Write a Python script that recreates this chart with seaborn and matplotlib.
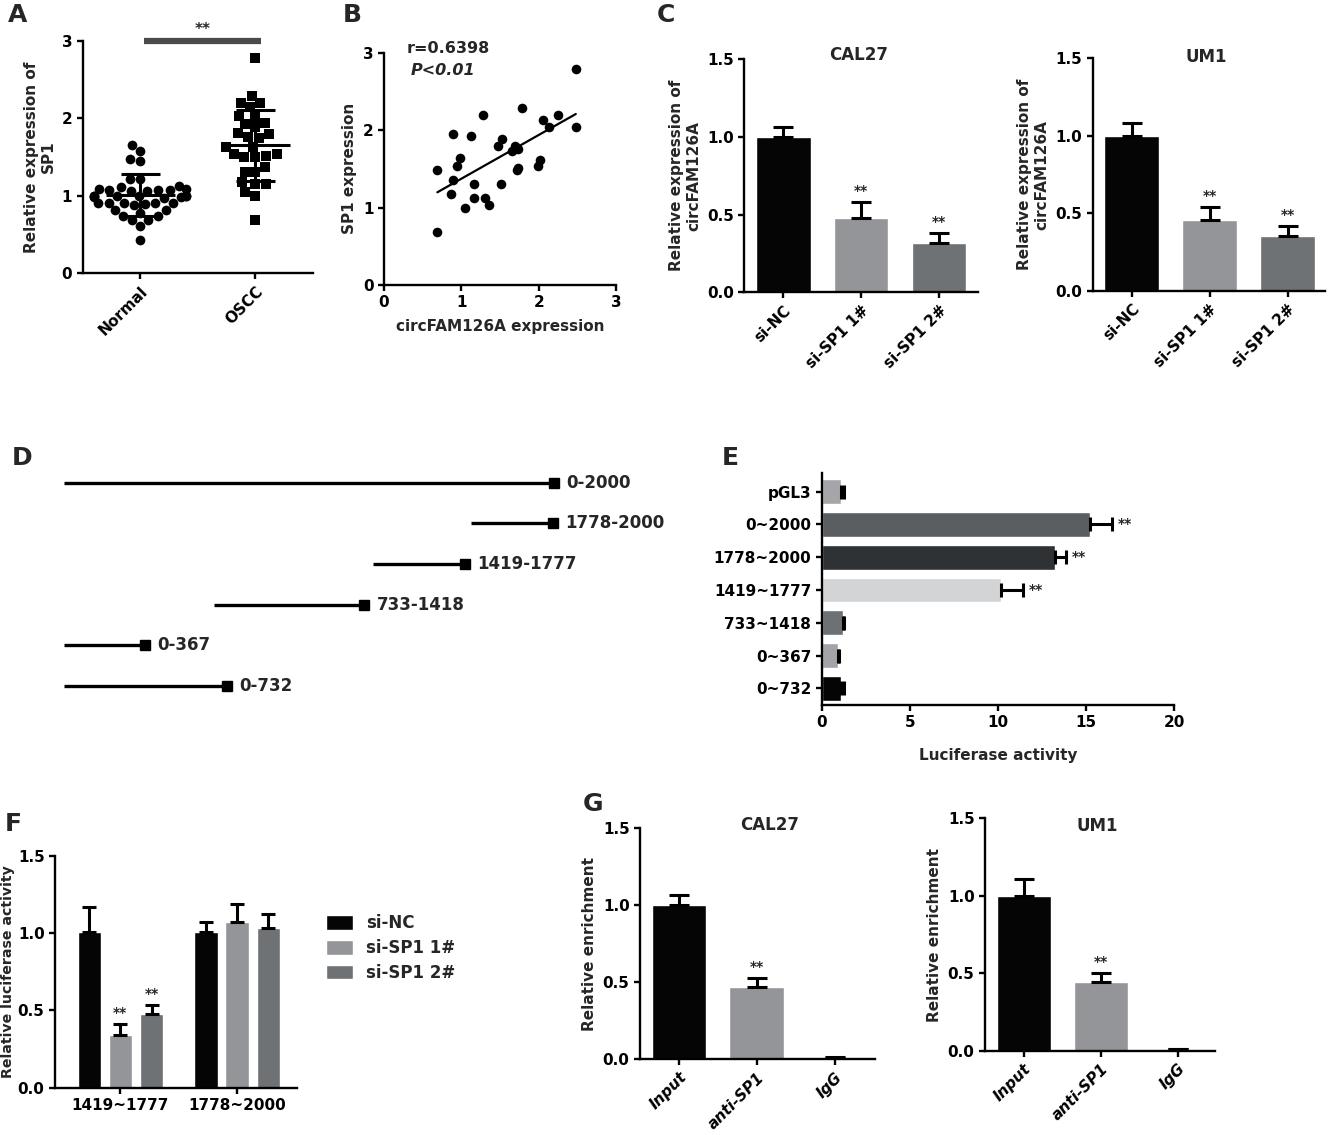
import matplotlib
matplotlib.use('Agg')
import matplotlib.pyplot as plt
import seaborn as sns
import pandas as pd

# ---- data ----
# A
normal_expr = [1.65, 1.58, 1.47, 1.45, 1.22, 1.22, 1.11, 1.08, 1.07, 1.06, 1.07, 1.06, 1.07, 1.08,
               1.12, 1.00, 0.99, 0.98, 0.99, 1.00, 0.99, 0.98, 1.00, 0.97, 0.90, 0.91, 0.90, 0.88,
               0.90, 0.91, 0.89, 0.81, 0.81, 0.78, 0.73, 0.73, 0.69, 0.69, 0.61, 0.42]
oscc_expr = [2.78, 2.29, 2.20, 2.20, 2.14, 2.03, 2.02, 1.88, 1.94, 1.92, 1.80, 1.76, 1.81, 1.74,
             1.63, 1.63, 1.54, 1.50, 1.50, 1.51, 1.54, 1.37, 1.30, 1.31, 1.15, 1.15, 1.17, 1.04,
             1.00, 0.68]
a_groups = ['Normal', 'OSCC']
a_mean = [1.01, 1.65]
a_sd = [0.27, 0.46]

# B
circ_expr = [2.48, 2.48, 2.25, 2.14, 2.06, 1.79, 1.28, 0.89, 1.13, 1.53, 1.48, 1.70, 1.65, 1.73, 0.98,
             0.95, 0.69, 0.89, 1.16, 1.51, 1.73, 1.72, 2.02, 1.99, 0.86, 1.16, 1.31, 1.36, 1.05, 0.69]
sp1_expr = [2.79, 2.04, 2.20, 2.04, 2.13, 2.29, 2.20, 1.95, 1.92, 1.88, 1.79, 1.80, 1.73, 1.75, 1.64,
            1.54, 1.49, 1.36, 1.31, 1.30, 1.51, 1.49, 1.61, 1.54, 1.18, 1.13, 1.13, 1.03, 1.00, 0.68]

# C
si_groups = ['si-NC', 'si-SP1 1#', 'si-SP1 2#']
c_cal27 = [1.00, 0.476, 0.315]
c_cal27_sd = [0.067, 0.108, 0.069]
c_um1 = [1.00, 0.458, 0.354]
c_um1_sd = [0.085, 0.086, 0.064]
si_colors = ['#050505', '#939598', '#6e7274']

# D
frag_labels = ['0-2000', '1778-2000', '1419-1777', '733-1418', '0-367', '0-732']
frag_start = [0, 1661, 1261, 612, 0, 0]
frag_end = [2000, 1996, 1637, 1224, 331, 665]

# E
e_constructs = ['pGL3', '0~2000', '1778~2000', '1419~1777', '733~1418', '0~367', '0~732']
e_luc = [1.09, 15.25, 13.26, 10.20, 1.19, 0.90, 1.09]
e_luc_sd = [0.16, 1.22, 0.61, 1.22, 0.09, 0.10, 0.16]
e_sig = ['', '**', '**', '**', '', '', '']
e_colors = ['#a4a6a9', '#5b5e61', '#2e3235', '#d3d4d5', '#6e7174', '#a2a4a7', '#050505']

# F
f_regions = ['1419~1777', '1778~2000']
f_nc = [1.01, 1.006]
f_sp1_1 = [0.341, 1.075]
f_sp1_2 = [0.477, 1.032]
f_nc_sd = [0.158, 0.064]
f_sp1_1_sd = [0.071, 0.112]
f_sp1_2_sd = [0.058, 0.090]
f_sig = {'si-SP1 1#': ['**', ''], 'si-SP1 2#': ['**', '']}

# G
g_groups = ['Input', 'anti-SP1', 'IgG']
g_cal27 = [1.00, 0.468, 0.010]
g_cal27_sd = [0.067, 0.058, 0.005]
g_um1 = [1.00, 0.441, 0.010]
g_um1_sd = [0.106, 0.063, 0.004]
g_colors = ['#050505', '#939598', '#505254']

# ---- style ----
sns.set_style('ticks')
plt.rcParams['font.family'] = ['DejaVu Sans']
plt.rcParams['font.weight'] = 'bold'
plt.rcParams['axes.labelweight'] = 'bold'
plt.rcParams['axes.linewidth'] = 1.7
plt.rcParams['xtick.major.width'] = 1.7
plt.rcParams['ytick.major.width'] = 1.7
plt.rcParams['xtick.major.size'] = 4
plt.rcParams['ytick.major.size'] = 4
plt.rcParams['xtick.labelsize'] = 11
plt.rcParams['ytick.labelsize'] = 11
plt.rcParams['axes.labelsize'] = 11
plt.rcParams['xtick.color'] = 'black'
plt.rcParams['ytick.color'] = 'black'
plt.rcParams['axes.edgecolor'] = 'black'

W, H = 1329, 1135
fig = plt.figure(figsize=(W / 100, H / 100), dpi=100)


def box(l, t, r, b):
    return fig.add_axes([l / W, 1 - b / H, (r - l) / W, (b - t) / H])


def letter(x, y, s):
    fig.text(x / W, 1 - y / H, s, fontsize=18, fontweight='bold', va='top', ha='left')


def clean(ax):
    sns.despine(ax=ax)


def bar_errors(ax, sds, horizontal=False):
    for patch, sd in zip(ax.patches, sds):
        if horizontal:
            yc = patch.get_y() + patch.get_height() / 2
            ax.errorbar(patch.get_width(), yc, xerr=[[0], [sd]], fmt='none', ecolor='black',
                        elinewidth=2.2, capsize=5, capthick=2.2, zorder=3)
        else:
            xc = patch.get_x() + patch.get_width() / 2
            ax.errorbar(xc, patch.get_height(), yerr=[[0], [sd]], fmt='none', ecolor='black',
                        elinewidth=2.2, capsize=7, capthick=2.2, zorder=3)


def star_above(ax, patch_idx, sd, text='**'):
    p = ax.patches[patch_idx]
    ax.text(p.get_x() + p.get_width() / 2, p.get_height() + sd + 0.025, text,
            ha='center', va='bottom', fontsize=10)


def small_bars(ax, cats, vals, sds, colors, title, title_x, title_y, ylabel, italic=False):
    sns.barplot(x=cats, y=vals, hue=cats, palette=colors, legend=False, width=0.7,
                errorbar=None, saturation=1, ax=ax)
    bar_errors(ax, sds)
    ax.set_ylim(0, 1.5)
    ax.set_yticks([0, 0.5, 1.0, 1.5])
    ax.set_yticklabels(['0.0', '0.5', '1.0', '1.5'])
    ax.set_xlim(-0.5, 2.48)
    ax.set_ylabel(ylabel)
    ax.set_xlabel('')
    for lbl in ax.get_xticklabels():
        lbl.set_rotation(45)
        lbl.set_ha('right')
        lbl.set_rotation_mode('anchor')
        if italic:
            lbl.set_style('italic')
    ax.text(title_x, title_y, title, transform=ax.transAxes, ha='center', va='center', fontsize=12)
    clean(ax)


# ---- A ----
axA = box(82.7, 40.7, 313, 273)
dfA = pd.DataFrame({'group': ['Normal'] * len(normal_expr) + ['OSCC'] * len(oscc_expr),
                    'value': normal_expr + oscc_expr})
sns.swarmplot(data=dfA[dfA.group == 'Normal'], x='group', y='value', order=a_groups,
              marker='o', color='black', size=7, ax=axA)
sns.swarmplot(data=dfA[dfA.group == 'OSCC'], x='group', y='value', order=a_groups,
              marker='s', color='black', size=7.5, ax=axA)
for i, (m, s) in enumerate(zip(a_mean, a_sd)):
    axA.hlines(m, i - 0.3, i + 0.3, color='black', lw=2.2, zorder=4)
    axA.vlines(i, m - s, m + s, color='black', lw=2.2, zorder=4)
    axA.hlines([m - s, m + s], i - 0.17, i + 0.17, color='black', lw=2.2, zorder=4)
axA.set_ylim(0, 3)
axA.set_xlim(-0.5, 1.5)
axA.set_yticks([0, 1, 2, 3])
axA.set_xlabel('')
axA.set_ylabel('Relative expression of\nSP1')
axA.plot([0.03, 1.05], [3, 3], color='#4a4a4a', lw=4.5, clip_on=False, zorder=5,
         solid_capstyle='butt')
axA.text(0.54, 3.05, '**', ha='center', va='bottom', fontsize=11)
for lbl in axA.get_xticklabels():
    lbl.set_rotation(45)
    lbl.set_ha('right')
    lbl.set_rotation_mode('anchor')
clean(axA)

# ---- B ----
axB = box(384, 52.7, 616, 285)
sns.regplot(x=circ_expr, y=sp1_expr, ci=None, truncate=True, ax=axB,
            scatter_kws={'s': 48, 'color': 'black', 'linewidths': 0, 'alpha': 1},
            line_kws={'color': 'black', 'lw': 1.6})
axB.set_xlim(0, 3)
axB.set_ylim(0, 3)
axB.set_xticks([0, 1, 2, 3])
axB.set_yticks([0, 1, 2, 3])
axB.set_xlabel('circFAM126A expression', labelpad=6)
axB.set_ylabel('SP1 expression')
axB.text(0.29, 3.05, 'r=0.6398', fontsize=11.5, va='center', ha='left')
axB.text(0.34, 2.77, 'P<0.01', fontsize=11.5, va='center', ha='left', style='italic')
clean(axB)

# ---- C ----
axC1 = box(744.3, 59.3, 978, 292.3)
small_bars(axC1, si_groups, c_cal27, c_cal27_sd, si_colors, 'CAL27', 0.49, 1.018,
           'Relative expression of\ncircFAM126A')
axC1.set_xlim(-0.5, 2.5)
for i in (1, 2):
    star_above(axC1, i, c_cal27_sd[i])
axC2 = box(1092.7, 58.3, 1325, 291)
small_bars(axC2, si_groups, c_um1, c_um1_sd, si_colors, 'UM1', 0.49, 1.007,
           'Relative expression of\ncircFAM126A')
for i in (1, 2):
    star_above(axC2, i, c_um1_sd[i])

# ---- D ----
axD = box(64, 470, 554, 700)
rows = list(range(len(frag_labels)))
axD.hlines(rows, frag_start, frag_end, color='black', lw=2.4)
axD.plot(frag_end, rows, 's', color='black', markersize=7.5, clip_on=False)
for r, xe, lab in zip(rows, frag_end, frag_labels):
    axD.annotate(lab, (xe, r), xytext=(9, 0), textcoords='offset points',
                 va='center', ha='left', fontsize=12, annotation_clip=False)
axD.set_xlim(0, 2000)
axD.set_ylim(5.34, -0.31)
axD.axis('off')

# ---- E ----
axE = box(821.7, 472.7, 1174, 705)
sns.barplot(x=e_luc, y=e_constructs, hue=e_constructs, palette=e_colors, legend=False,
            orient='h', width=0.76, errorbar=None, saturation=1, ax=axE)
bar_errors(axE, e_luc_sd, horizontal=True)
for i, (v, s, st) in enumerate(zip(e_luc, e_luc_sd, e_sig)):
    if st:
        axE.text(v + s + 0.35, i, st, va='center', ha='left', fontsize=10)
axE.set_xlim(0, 20)
axE.set_ylim(6.51, -0.58)
axE.set_xticks([0, 5, 10, 15, 20])
axE.set_xlabel('Luciferase activity', labelpad=13)
axE.set_ylabel('')
clean(axE)

# ---- F ----
axF = box(55, 856, 296.7, 1087.7)
dfF = pd.DataFrame({
    'region': f_regions * 3,
    'group': [si_groups[0]] * 2 + [si_groups[1]] * 2 + [si_groups[2]] * 2,
    'value': f_nc + f_sp1_1 + f_sp1_2,
})
sns.barplot(data=dfF, x='region', y='value', hue='group', hue_order=si_groups, order=f_regions,
            palette=si_colors, width=0.8, gap=0.25, errorbar=None, saturation=1, ax=axF)
f_sds = {si_groups[0]: f_nc_sd, si_groups[1]: f_sp1_1_sd, si_groups[2]: f_sp1_2_sd}
for cont, g in zip(axF.containers, si_groups):
    for j, patch in enumerate(cont):
        xc = patch.get_x() + patch.get_width() / 2
        sd = f_sds[g][j]
        axF.errorbar(xc, patch.get_height(), yerr=[[0], [sd]], fmt='none', ecolor='black',
                     elinewidth=2.2, capsize=5, capthick=2.2, zorder=3)
        if g in f_sig and f_sig[g][j]:
            axF.text(xc, patch.get_height() + sd + 0.025, f_sig[g][j], ha='center',
                     va='bottom', fontsize=10)
axF.set_ylim(0, 1.5)
axF.set_yticks([0, 0.5, 1.0, 1.5])
axF.set_yticklabels(['0.0', '0.5', '1.0', '1.5'])
axF.set_xlim(-0.56, 1.51)
axF.set_xlabel('')
axF.set_ylabel('Relative luciferase activity', fontsize=10.2, labelpad=2)
axF.legend(loc='center left', bbox_to_anchor=(326 / W, 1 - 948 / H),
           bbox_transform=fig.transFigure, frameon=False, fontsize=12,
           handlelength=1.6, handleheight=1.0, handletextpad=0.8, labelspacing=0.4,
           borderpad=0, borderaxespad=0)
clean(axF)

# ---- G ----
axG1 = box(640, 828.3, 875, 1059.3)
small_bars(axG1, g_groups, g_cal27, g_cal27_sd, g_colors, 'CAL27', 0.55, 1.014,
           'Relative enrichment', italic=True)
axG1.set_xlim(-0.5, 2.52)
star_above(axG1, 1, g_cal27_sd[1])
axG2 = box(985, 818.3, 1215, 1050.7)
small_bars(axG2, g_groups, g_um1, g_um1_sd, g_colors, 'UM1', 0.486, 0.967,
           'Relative enrichment', italic=True)
star_above(axG2, 1, g_um1_sd[1])

# ---- panel letters ----
letter(8, 3, 'A')
letter(343, 3, 'B')
letter(657, 3, 'C')
letter(12, 446, 'D')
letter(722, 446, 'E')
letter(5, 812, 'F')
letter(583, 792, 'G')

fig.savefig('out.png', dpi=100)
